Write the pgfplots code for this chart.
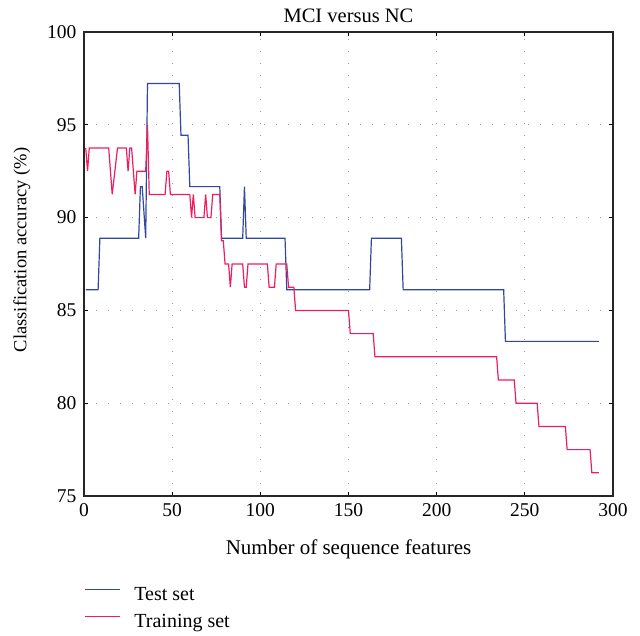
\documentclass[border=0pt]{standalone}
\usepackage{pgfplots}
\pgfplotsset{compat=1.18}
\usepackage{fontspec}
\setmainfont{Liberation Serif}
\definecolor{testblue}{RGB}{50,72,160}
\definecolor{trainpink}{RGB}{236,30,96}
\begin{document}
\begin{tikzpicture}[x=1pt,y=1pt]
\useasboundingbox (-84,-139) rectangle (556,32+464);
\begin{axis}[
  at={(0,0)}, anchor=south west,
  scale only axis, width=529pt, height=464pt,
  xmin=0, xmax=300, ymin=75, ymax=100,
  xtick={0,50,...,300}, ytick={75,80,...,100},
  /pgf/number format/assume math mode=true,
  tick label style={font=\fontsize{19.5}{22}\selectfont},
  xticklabel style={yshift=-4pt},
  yticklabel style={xshift=-4pt},
  title={\fontsize{20.5}{24}\selectfont MCI versus NC},
  title style={yshift=0pt},
  xlabel={\fontsize{21}{25}\selectfont Number of sequence features},
  ylabel={\fontsize{18.5}{22}\selectfont Classification accuracy (\%)},
  xlabel style={yshift=-16pt},
  ylabel style={yshift=10pt, xshift=14pt},
  grid=major,
  major grid style={gray!80, line width=0.9pt, dash pattern=on 1pt off 11pt},
  axis line style={black!85, line width=1.2pt},
  tick style={black, line width=0.9pt},
  major tick length=4pt,
  tick align=inside,
  legend style={at={(0,-0.194)}, anchor=north west, draw=none, fill=none,
    font=\fontsize{20}{24}\selectfont, row sep=7pt, inner sep=0pt,
    nodes={inner sep=0pt, text height=14pt, text depth=6pt},
    cells={anchor=west}},
  legend image code/.code={\draw[#1] (0pt,7pt) -- (35pt,7pt); \path (49pt,0pt);},
  legend cell align=left,
]
\addplot[testblue, line width=1.2pt] coordinates {
(1,86.11) (8,86.11) (9,88.89) (31,88.89) (32,91.67) (33,91.67) (35,88.89)
(36,97.22) (54,97.22) (55,94.44) (59,94.44) (60,91.67) (77,91.67) (78,88.89)
(90,88.89) (91,91.67) (92,88.89) (114,88.89) (115,86.11) (162,86.11)
(163,88.89) (180,88.89) (181,86.11) (238,86.11) (239,83.33) (292,83.33)
};
\addlegendentry{Test set}
\addplot[trainpink, line width=1.2pt] coordinates {
(1,93.75) (2,92.5) (3,93.75) (14,93.75) (16,91.25) (19,93.75) (24,93.75)
(25,92.5) (26,93.75) (27,93.75) (29,91.25) (30,92.5) (35,92.5) (36,95)
(37,91.25) (46,91.25) (47,92.5) (48,92.5) (49,91.25) (60,91.25) (61,90)
(62,91.25) (63,90) (68,90) (69,91.25) (70,90) (72,90) (73,91.25) (77,91.25)
(78,88.75) (79,88.75) (80,87.5) (82,87.5) (83,86.25) (84,87.5) (90,87.5)
(91,86.25) (92,86.25) (93,87.5) (104,87.5) (105,86.25) (108,86.25) (109,87.5)
(115,87.5) (116,86.25) (119,86.25) (120,85) (150,85) (151,83.75) (164,83.75)
(165,82.5) (234,82.5) (235,81.25) (244,81.25) (245,80) (257,80) (258,78.75)
(273,78.75) (274,77.5) (287,77.5) (288,76.25) (292,76.25)
};
\addlegendentry{Training set}
\end{axis}
\end{tikzpicture}
\end{document}
